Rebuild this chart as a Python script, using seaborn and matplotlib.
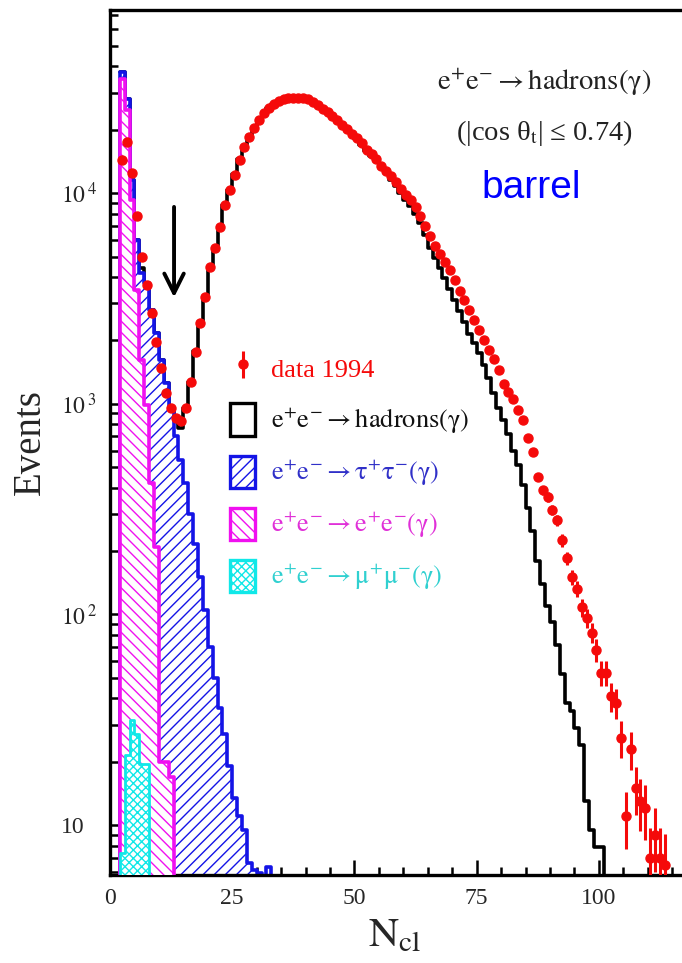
import numpy as np
import pandas as pd
import matplotlib
matplotlib.use("Agg")
import matplotlib.pyplot as plt
from matplotlib.patches import Patch
from matplotlib.ticker import LogLocator, NullFormatter
import seaborn as sns

# ---------------------------------------------------------------------------
# Cluster multiplicity N_cl, one bin per unit: bin k covers [k, k+1)
# ---------------------------------------------------------------------------
data_first_bin = 2
data_counts = [
    14350, 17460, 12450, 7780, 4970, 3660, 2690, 1960, 1476, 1124,       # 2-11
    960, 860, 830, 960, 1270, 1760, 2410, 3210, 4450, 5480,              # 12-21
    6900, 8770, 10330, 12170, 14350, 16530, 18440, 20330, 22170, 23970,  # 22-31
    25310, 26400, 27300, 27950, 28270, 28400, 28400, 28270, 27950, 26980,  # 32-41
    26300, 25180, 24210, 23180, 22170, 21030, 20230, 19150, 18240, 17270,  # 42-51
    16070, 15310, 14580, 13520, 12790, 12050, 11280, 10500, 9790, 9310,  # 52-61
    8630, 7780, 6970, 6250, 5600, 5130, 4710, 4310, 3870, 3430,          # 62-71
    3110, 2790, 2500, 2240, 2000, 1800, 1630, 1445, 1240, 1136,          # 72-81
    1053, 933, 837, 687, 590, 449, 389, 361, 313, 281,                   # 82-91
    225, 185, 151, 132, 108, 96, 82, 68, 53, 53,                         # 92-101
    41, 38, 26, 11, 23, 15, 13, 12, 7, 9,                                # 102-111
    7, 6.5,                                                              # 112-113
]

# Monte Carlo, stacked: hadrons + tau + ee + mumu (black outline)
mc_first_bin = 2
mc_total = [
    37500, 27900, 11500, 5980, 4400, 3730, 2790, 2170, 1620, 1250,       # 2-11
    960, 840, 770, 950, 1270, 1780, 2450, 3250, 4450, 5500,              # 12-21
    6950, 8800, 10400, 12300, 14500, 16700, 18600, 20400, 22200, 24000,  # 22-31
    25400, 26500, 27400, 28000, 28400, 28600, 28500, 28300, 27900, 27000,  # 32-41
    26200, 25100, 24100, 23000, 22000, 20900, 20000, 18900, 18000, 17000,  # 42-51
    15800, 15000, 14200, 13200, 12400, 11600, 10800, 10000, 9300, 8700,  # 52-61
    8000, 7200, 6300, 5500, 4900, 4400, 3950, 3500, 3100, 2750,          # 62-71
    2450, 2150, 1950, 1750, 1530, 1320, 1130, 960, 840, 720,             # 72-81
    600, 510, 410, 320, 250, 180, 140, 110, 92, 72,                      # 82-91
    52, 38, 35, 29, 24, 13, 9.5, 7.9, 7.9, 0,                            # 92-101
]

# tau + ee + mumu (blue outline)
tau_stack = [
    37500, 27900, 11500, 5980, 4170, 3730, 2790, 2170, 1620, 1250,       # 2-11
    950, 700, 540, 420, 300, 215, 150, 105, 70, 50,                      # 12-21
    36, 27, 19, 13.5, 11, 9.5, 6.6, 6.1, 5.9, 0,                         # 22-31
    6.3, 0,                                                              # 32-33
]

# ee + mumu (magenta outline)
ee_stack = [35000, 24800, 9260, 3470, 1620, 990, 421, 209, 20, 20, 17, 0]  # 2-13

# mumu alone (cyan outline)
mumu = [7.4, 21.5, 31.5, 27, 19.6, 19.6, 0]                            # 2-8

x_major_ticks = [0, 25, 50, 75, 100]
y_major_ticks = [10, 100, 1000, 10000]
y_tick_labels = ["10", r"$10^{\,2}$", r"$10^{\,3}$", r"$10^{\,4}$"]

legend_labels = [
    "data 1994",
    r"$\mathrm{e^{+}e^{-}\rightarrow hadrons(\gamma)}$",
    r"$\mathrm{e^{+}e^{-}\rightarrow \tau^{+}\tau^{-}(\gamma)}$",
    r"$\mathrm{e^{+}e^{-}\rightarrow e^{+}e^{-}(\gamma)}$",
    r"$\mathrm{e^{+}e^{-}\rightarrow \mu^{+}\mu^{-}(\gamma)}$",
]

# colours
RED = "#f50a0a"
BLUE = "#1414e6"
MAGENTA = "#f010f0"
CYAN = "#10e8e8"

sns.set_style("ticks")
plt.rcParams["font.family"] = ["Liberation Serif", "DejaVu Serif"]
plt.rcParams["mathtext.fontset"] = "stix"
plt.rcParams["hatch.linewidth"] = 1.0

fig = plt.figure(figsize=(6.82, 9.63), dpi=100)
ax = fig.add_axes([110 / 682, 88 / 963, 572 / 682, 865 / 963])
ax.set_yscale("log")


def draw_layer(values, first_bin, **kws):
    n = len(values)
    frame = pd.DataFrame({
        "ncl": np.arange(first_bin, first_bin + n) + 0.5,
        "w": np.asarray(values, dtype=float),
    })
    sns.histplot(data=frame, x="ncl", weights="w", binwidth=1,
                 binrange=(first_bin, first_bin + n), element="step", ax=ax, **kws)


# total MC outline (below the coloured backgrounds)
draw_layer(mc_total, mc_first_bin, fill=False, color="black", linewidth=2.6, zorder=1)
# stacked backgrounds, each hatched over a white fill
draw_layer(tau_stack, mc_first_bin, fill=True, facecolor="white", edgecolor=BLUE,
           hatch="///", linewidth=2.6, zorder=2)
draw_layer(ee_stack, mc_first_bin, fill=True, facecolor="white", edgecolor=MAGENTA,
           hatch="\\\\\\", linewidth=2.6, zorder=3)
draw_layer(mumu, mc_first_bin, fill=True, facecolor="white", edgecolor=CYAN,
           hatch="xxxx", linewidth=2.0, zorder=4)

# data points with Poisson errors
counts = np.asarray(data_counts, dtype=float)
ncl = np.arange(data_first_bin, data_first_bin + len(counts)) + 0.5
data_handle = ax.errorbar(ncl, counts, yerr=np.sqrt(counts), fmt="o", color=RED,
                          markersize=6.5, elinewidth=2.2, capsize=0, zorder=6)

# arrow marking the cut
ax.annotate("", xy=(13.1, 3200), xytext=(13.1, 8600),
            arrowprops=dict(arrowstyle="->,head_length=0.7,head_width=0.35",
                            color="black", lw=2.8, mutation_scale=20,
                            shrinkA=0, shrinkB=0), zorder=7)

# axes ranges and ticks
ax.set_xlim(0, 117)
ax.set_ylim(5.8, 74000)
ax.set_xticks(x_major_ticks)
ax.set_xticks(np.arange(0, 117, 5), minor=True)
ax.set_yticks(y_major_ticks, labels=y_tick_labels)
ax.yaxis.set_minor_locator(LogLocator(base=10, subs=np.arange(2, 10)))
ax.yaxis.set_minor_formatter(NullFormatter())
ax.tick_params(which="both", direction="in", top=False, right=False, width=1.8,
               color="black")
ax.tick_params(which="major", length=11)
ax.tick_params(which="minor", length=5.5)
ax.tick_params(axis="x", labelsize=17, pad=9)
ax.tick_params(axis="y", labelsize=17, pad=35)
for lab in ax.get_yticklabels():
    lab.set_horizontalalignment("left")

for side in ("left", "bottom", "top"):
    ax.spines[side].set_linewidth(2.4)
    ax.spines[side].set_color("black")
ax.spines["right"].set_visible(False)

ax.set_xlabel(r"$\mathrm{N_{cl}}$", fontsize=30)
ax.set_ylabel("Events", fontsize=28)
ax.xaxis.set_label_coords(0.498, -0.048)
ax.yaxis.set_label_coords(-0.107, 0.5)

# annotations
ax.text(0.759, 0.917, r"$\mathrm{e^{+}e^{-}\rightarrow hadrons(\gamma)}$",
        transform=ax.transAxes, ha="center", va="center", fontsize=20.5, color="#222222")
ax.text(0.759, 0.858, "(|cos θ$_{\\mathrm{t}}$| ≤ 0.74)",
        transform=ax.transAxes, ha="center", va="center", fontsize=20.5, color="#222222")
ax.text(0.736, 0.794, "barrel", transform=ax.transAxes, ha="center", va="center",
        fontsize=28, color="#0000ff", family=["Liberation Sans", "DejaVu Sans"])

# legend
handles = [
    data_handle,
    Patch(facecolor="white", edgecolor="black", linewidth=2.4),
    Patch(facecolor="white", edgecolor=BLUE, hatch="///", linewidth=2.4),
    Patch(facecolor="white", edgecolor=MAGENTA, hatch="\\\\\\", linewidth=2.4),
    Patch(facecolor="white", edgecolor=CYAN, hatch="xxxx", linewidth=2.4),
]
ax.legend(handles, legend_labels, loc="upper left",
          bbox_to_anchor=(230 / 682, 1 - 352 / 963), bbox_transform=fig.transFigure,
          frameon=False, fontsize=19, handlelength=0.95, handleheight=1.5,
          handletextpad=0.6, labelspacing=0.73, borderaxespad=0, borderpad=0,
          labelcolor=[RED, "#111111", "#3030c8", "#e030d8", "#30d0d0"])

fig.savefig("out.png", dpi=100)
